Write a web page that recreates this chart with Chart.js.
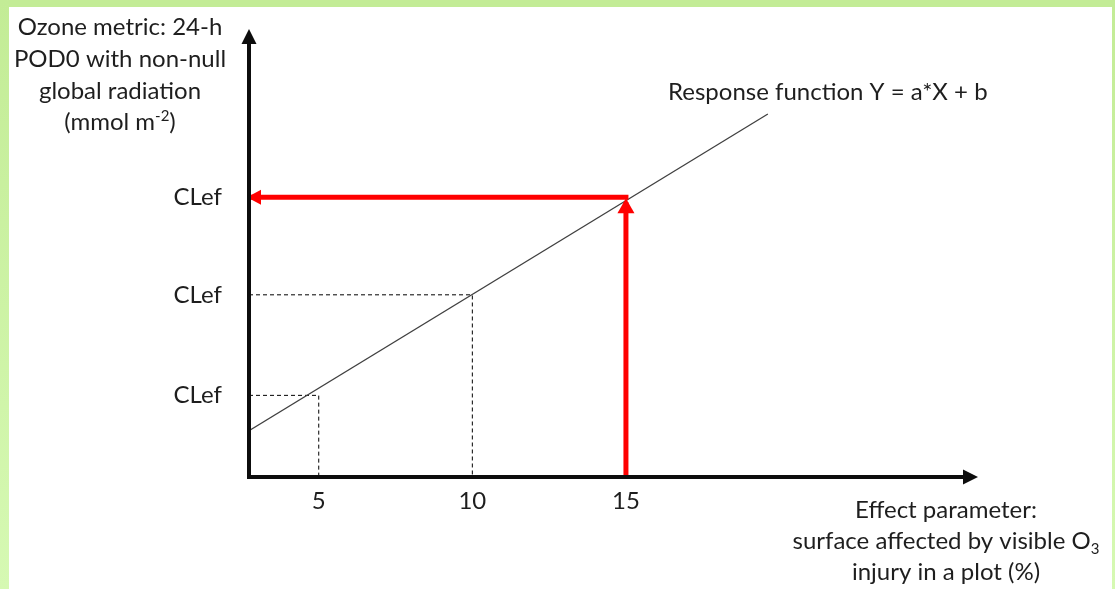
<!DOCTYPE html>
<html>
<head>
<meta charset="utf-8">
<script src="https://cdn.jsdelivr.net/npm/chart.js@4.4.1/dist/chart.umd.min.js"></script>
<style>
  html, body { margin: 0; padding: 0; background: #ffffff; }
  #wrap { position: relative; width: 1115px; height: 589px; overflow: hidden; }
  #chart { position: absolute; left: 0; top: 0; }
  .band { position: absolute; pointer-events: none; }
  #bandTop { left: 0; top: 0; width: 1115px; height: 7px; background: #c3ec96; }
  #bandLeft { left: 0; top: 0; width: 9px; height: 589px; background: linear-gradient(#c3ec96, #d6f9b3); }
  #bandRight { right: 0; top: 0; width: 3px; height: 589px; background: linear-gradient(#c3ec96, #d6f9b3); }
</style>
</head>
<body>
<div id="wrap">
  <canvas id="chart" width="1115" height="589"></canvas>
  <div class="band" id="bandTop"></div>
  <div class="band" id="bandLeft"></div>
  <div class="band" id="bandRight"></div>
</div>
<script>
// ---- data ----
const xTickValues = [5, 10, 15];
const clefLevels = [8.2, 18.3, 28.1];          // the three "CLef" marks on the Y axis
const responseX = [2.73, 19.62];               // response function Y = a*X + b
const responseY = [4.65, 36.46];
const guideX = [5, 10];                        // dashed read-off lines
const targetX = 15;                            // red read-off
const targetArrowTop = 27.6;
const xRange = [2.73, 26.46];
const yRange = [0, 45];

const yTitleLines = ['Ozone metric: 24-h', 'POD0 with non-null', 'global radiation'];
const responseLabel = 'Response function Y = a*X + b';

const FONT = 'Lato, "Open Sans", sans-serif';
const TEXT = '#1e1e1e';
const RED = '#ff0000';

// ---- datasets ----
const redUp = [{ x: targetX, y: 0 }, { x: targetX, y: targetArrowTop }];
const redLeft = [{ x: targetX, y: clefLevels[2] }, { x: xRange[0], y: clefLevels[2] }];
const responseLine = responseX.map((x, i) => ({ x, y: responseY[i] }));
const guides = guideX.map((gx, i) => [
    { x: xRange[0], y: clefLevels[i] },
    { x: gx, y: clefLevels[i] },
    { x: gx, y: 0 }
]);

// draws a filled arrowhead whose tip is a few px past the given end point
function arrowHead(ctx, x0, y0, x1, y1, len, half, color, extend) {
    const a = Math.atan2(y1 - y0, x1 - x0);
    const tx = x1 + Math.cos(a) * extend, ty = y1 + Math.sin(a) * extend;
    const bx = tx - Math.cos(a) * len, by = ty - Math.sin(a) * len;
    ctx.beginPath();
    ctx.moveTo(tx, ty);
    ctx.lineTo(bx - Math.sin(a) * half, by + Math.cos(a) * half);
    ctx.lineTo(bx + Math.sin(a) * half, by - Math.cos(a) * half);
    ctx.closePath();
    ctx.fillStyle = color;
    ctx.fill();
}

// text with sub/superscript pieces, centred on cx
function richText(ctx, parts, cx, baseline, align) {
    let total = 0;
    parts.forEach(p => { ctx.font = p.size + 'px ' + FONT; p.w = ctx.measureText(p.t).width; total += p.w; });
    let x = align === 'left' ? cx : cx - total / 2;
    ctx.textAlign = 'left';
    ctx.textBaseline = 'alphabetic';
    parts.forEach(p => {
        ctx.font = p.size + 'px ' + FONT;
        ctx.fillText(p.t, x, baseline + (p.dy || 0));
        x += p.w;
    });
}

const decorPlugin = {
    id: 'decor',
    afterDatasetsDraw(chart) {
        const ctx = chart.ctx;
        const xs = chart.scales.x, ys = chart.scales.y;
        const area = chart.chartArea;
        ctx.save();
        // red arrowheads
        arrowHead(ctx, xs.getPixelForValue(redUp[0].x), ys.getPixelForValue(redUp[0].y),
            xs.getPixelForValue(redUp[1].x), ys.getPixelForValue(redUp[1].y), 15, 8.5, RED, 4);
        arrowHead(ctx, xs.getPixelForValue(redLeft[0].x), ys.getPixelForValue(redLeft[0].y),
            xs.getPixelForValue(redLeft[1].x), ys.getPixelForValue(redLeft[1].y), 14, 7.5, RED, 2);

        // axes with arrows
        ctx.strokeStyle = '#0d0d0d';
        ctx.lineWidth = 4;
        ctx.beginPath();
        ctx.moveTo(area.left, area.bottom + 2);
        ctx.lineTo(area.left, area.top + 12);
        ctx.moveTo(area.left - 2, area.bottom);
        ctx.lineTo(area.right - 12, area.bottom);
        ctx.stroke();
        arrowHead(ctx, area.left, area.bottom, area.left, area.top, 15, 7.5, '#0d0d0d', 0);
        arrowHead(ctx, area.left, area.bottom, area.right, area.bottom, 15, 7.5, '#0d0d0d', 0);
        ctx.restore();
    },
    afterDraw(chart) {
        const ctx = chart.ctx;
        ctx.save();
        ctx.fillStyle = TEXT;
        ctx.textAlign = 'center';
        ctx.textBaseline = 'alphabetic';
        ctx.font = '24px ' + FONT;
        yTitleLines.forEach((t, i) => ctx.fillText(t, 120, 35 + i * 32));
        richText(ctx, [
            { t: '(mmol m', size: 24 },
            { t: '-2', size: 15, dy: -9 },
            { t: ')', size: 24 }
        ], 120, 130);

        richText(ctx, [{ t: responseLabel, size: 24 }], 668, 100, 'left');

        ctx.textAlign = 'center';
        ctx.font = '24px ' + FONT;
        ctx.fillText('Effect parameter:', 946, 518);
        richText(ctx, [
            { t: 'surface affected by visible O', size: 24 },
            { t: '3', size: 15, dy: 5 }
        ], 946, 549);
        ctx.textAlign = 'center';
        ctx.font = '24px ' + FONT;
        ctx.fillText('injury in a plot (%)', 946, 580);
        ctx.restore();
    }
};

const lineBase = { showLine: true, pointRadius: 0, fill: false, tension: 0 };

new Chart(document.getElementById('chart'), {
    type: 'scatter',
    data: {
        datasets: [
            Object.assign({ data: redUp, borderColor: RED, borderWidth: 5, borderCapStyle: 'butt' }, lineBase),
            Object.assign({ data: redLeft, borderColor: RED, borderWidth: 5, borderCapStyle: 'square' }, lineBase),
            Object.assign({ data: responseLine, borderColor: '#404040', borderWidth: 1.3 }, lineBase),
            Object.assign({ data: guides[0], borderColor: '#000000', borderWidth: 1, borderDash: [4, 3] }, lineBase),
            Object.assign({ data: guides[1], borderColor: '#000000', borderWidth: 1, borderDash: [4, 3] }, lineBase)
        ]
    },
    options: {
        responsive: false,
        animation: false,
        devicePixelRatio: 1,
        layout: { padding: { top: 29, right: 137, left: 0, bottom: 0 } },
        plugins: { legend: { display: false }, tooltip: { enabled: false } },
        scales: {
            x: {
                type: 'linear',
                min: xRange[0],
                max: xRange[1],
                grid: { display: false, drawTicks: false },
                border: { display: false },
                afterBuildTicks: (scale) => { scale.ticks = xTickValues.map(v => ({ value: v })); },
                afterFit: (scale) => {
                    scale.height = 112;
                    scale.paddingLeft = 0;
                    scale.paddingRight = 0;
                },
                ticks: {
                    padding: 10,
                    color: TEXT,
                    font: { family: FONT, size: 24 },
                    autoSkip: false,
                    maxRotation: 0,
                    callback: (v) => String(v)
                }
            },
            y: {
                type: 'linear',
                min: yRange[0],
                max: yRange[1],
                grid: { display: false, drawTicks: false },
                border: { display: false },
                afterBuildTicks: (scale) => { scale.ticks = clefLevels.map(v => ({ value: v })); },
                afterFit: (scale) => {
                    scale.width = 249;
                    scale.paddingTop = 0;
                    scale.paddingBottom = 0;
                },
                ticks: {
                    padding: 27,
                    color: TEXT,
                    font: { family: FONT, size: 24 },
                    autoSkip: false,
                    callback: () => 'CLef'
                }
            }
        }
    },
    plugins: [decorPlugin]
});
</script>
</body>
</html>
